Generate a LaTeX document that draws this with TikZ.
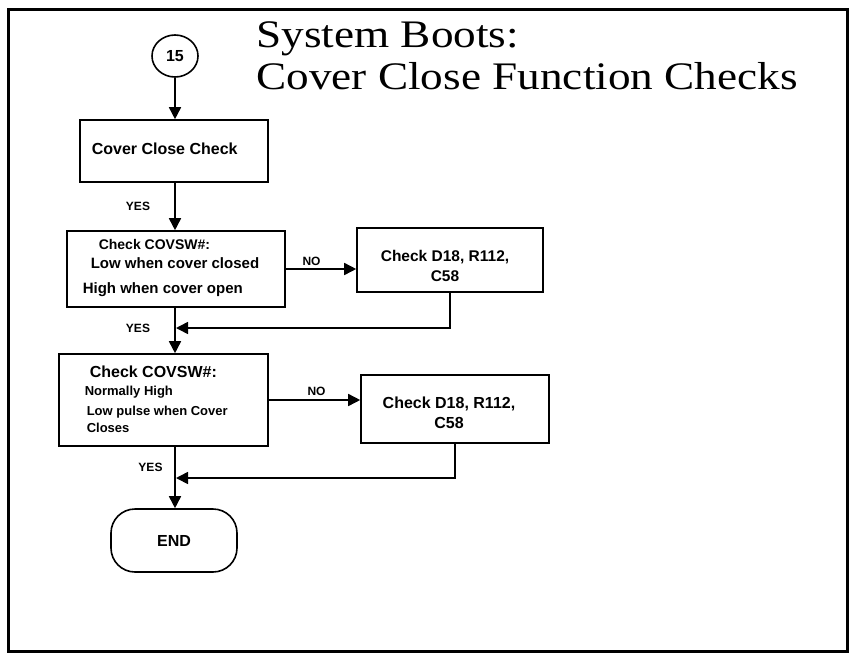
\documentclass[tikz,border=0pt]{standalone}
\usepackage{fontspec}
\setmainfont{Liberation Sans}
\newfontfamily\titulo{Liberation Serif}
\usetikzlibrary{arrows.meta,shapes.geometric}
\tikzset{
  caja/.style={draw, rectangle, inner sep=0pt},
  texto/.style={anchor=west, inner sep=0pt, text depth=0pt, font=\bfseries\fontsize{#1}{#1}\selectfont},
  texto/.default=15,
  centrado/.style={inner sep=0pt, align=center, font=\bfseries\fontsize{#1}{20}\selectfont},
  centrado/.default=15.5,
  rotulo/.style={inner sep=0pt, text depth=0pt, font=\bfseries\fontsize{12}{12}\selectfont},
  flecha/.style={-{Triangle[length=12pt,width=12pt]}}
}
\begin{document}
\begin{tikzpicture}[x=1pt, y=-1pt, line width=1.6pt]
  \useasboundingbox (0,0) rectangle (852,654);
  % marco
  \draw[line width=3pt] (8,9) rectangle (847,651);
  % titulo
  \node[anchor=base west, inner sep=0pt] (tit1) at (255.5,47)
    {\titulo\fontsize{39}{43}\selectfont\scalebox{1.16}[1]{System Boots:}};
  \node[anchor=base west, inner sep=0pt] (tit2) at (255.5,89.5)
    {\titulo\fontsize{39}{43}\selectfont\scalebox{1.16}[1]{Cover Close Function Checks}};
  % conector de entrada
  \node[draw, ellipse, minimum width=46pt, minimum height=42pt, inner sep=0pt,
    font=\bfseries\fontsize{16}{16}\selectfont] (n15) at (175,56) {15};
  % cajas
  \node[caja, minimum width=188pt, minimum height=62pt] (c1) at (174,151) {};
  \node[texto=16] (t1) at (91,149) {Cover Close Check};
  \node[caja, minimum width=218pt, minimum height=76pt] (c2) at (176,269) {};
  \node[texto=14] (t2a) at (98,244) {Check COVSW\#:};
  \node[texto] (t2b) at (90,263) {Low when cover closed};
  \node[texto] (t2c) at (82,288) {High when cover open};
  \node[caja, minimum width=186pt, minimum height=64pt] (c3) at (450,260) {};
  \node[centrado] (t3) at (445,266) {Check D18, R112,\\ C58};
  \node[caja, minimum width=209pt, minimum height=92pt] (c4) at (163.5,400) {};
  \node[texto=16] (t4a) at (89,372) {Check COVSW\#:};
  \node[texto=13] (t4b) at (84,391) {Normally High};
  \node[texto=13] (t4c) at (86,411) {Low pulse when Cover};
  \node[texto=13] (t4d) at (86,428) {Closes};
  \node[caja, minimum width=188pt, minimum height=68pt] (c5) at (455,409) {};
  \node[centrado=16] (t5) at (449,412.5) {Check D18, R112,\\ C58};
  % fin
  \node[draw, rectangle, rounded corners=24pt, minimum width=126pt, minimum height=63pt,
    inner sep=0pt, font=\bfseries\fontsize{16}{16}\selectfont] (fin) at (174,540.5)
    {\raisebox{-6pt}{END}};
  % flechas principales
  \draw[flecha] (n15) -- (n15 |- c1.north);
  \draw[flecha] (c1.south -| n15) -- (n15 |- c2.north);
  \draw[flecha] (c2.south -| n15) -- (n15 |- c4.north);
  \draw[flecha] (c4.south -| n15) -- (n15 |- fin.north);
  % ramas NO
  \draw[flecha] (c2.east) -- (c2.east -| c3.west);
  \draw[flecha] (c4.east) -- (c4.east -| c5.west);
  \coordinate (r1) at (176,328);
  \coordinate (r2) at (176,478);
  \draw[flecha] (c3.south) |- (r1);
  \draw[flecha] (c5.south) |- (r2);
  % rotulos
  \node[rotulo] (si1) at (138,206) {YES};
  \node[rotulo] (no1) at (311.5,261) {NO};
  \node[rotulo] (si2) at (138,328) {YES};
  \node[rotulo] (no2) at (316.5,391) {NO};
  \node[rotulo] (si3) at (150.5,467) {YES};
\end{tikzpicture}
\end{document}
